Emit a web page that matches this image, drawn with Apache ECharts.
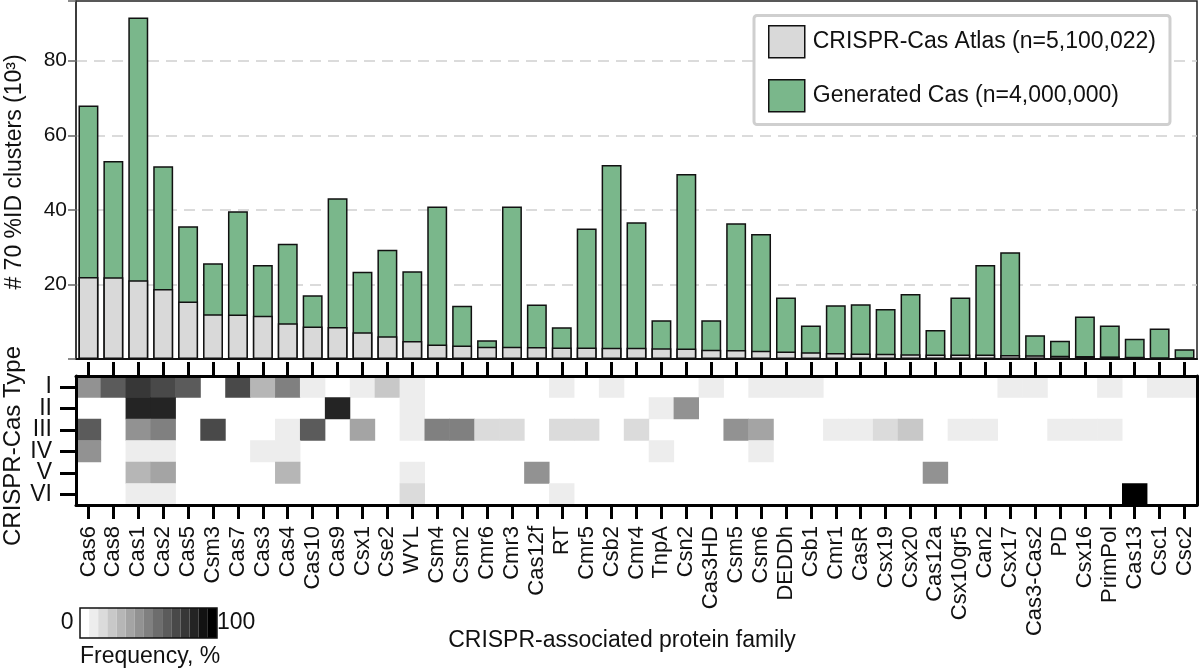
<!DOCTYPE html>
<html>
<head>
<meta charset="utf-8">
<script src="https://cdn.jsdelivr.net/npm/echarts@6/dist/echarts.min.js"></script>
<style>html,body{margin:0;padding:0;background:#fff}#c{width:1200px;height:669px}</style>
</head>
<body>
<div id="c"></div>
<script>
const categories = ['Cas6','Cas8','Cas1','Cas2','Cas5','Csm3','Cas7','Cas3','Cas4','Cas10','Cas9','Csx1','Cse2','WYL','Csm4','Csm2','Cmr6','Cmr3','Cas12f','RT','Cmr5','Csb2','Cmr4','TnpA','Csn2','Cas3HD','Csm5','Csm6','DEDDh','Csb1','Cmr1','CasR','Csx19','Csx20','Cas12a','Csx10gr5','Can2','Csx17','Cas3-Cas2','PD','Csx16','PrimPol','Cas13','Csc1','Csc2'];
const generated = [68.0,53.1,91.6,51.7,35.6,25.7,39.6,25.2,30.9,17.1,43.1,23.4,29.3,23.5,40.9,14.3,5.0,40.9,14.6,8.5,35.0,52.0,36.7,10.4,49.6,10.4,36.4,33.5,16.5,9.0,14.4,14.7,13.4,17.4,7.8,16.5,25.2,28.6,6.4,4.9,11.4,9.0,5.4,8.2,2.6];
const atlas = [22.0,21.9,21.1,18.8,15.4,12.0,11.9,11.6,9.6,8.7,8.6,7.2,6.1,4.8,3.9,3.6,3.3,3.3,3.2,3.1,3.1,3.0,3.0,2.9,2.8,2.5,2.4,2.2,2.0,1.8,1.6,1.5,1.4,1.3,1.2,1.2,1.2,1.1,1.0,0.9,0.8,0.7,0.6,0.4,0.4];
const types = ['I','II','III','IV','V','VI'];
const yTicks = [20,40,60,80];
const typeI = [['Cas6',43],['Cas8',63],['Cas1',78],['Cas2',72],['Cas5',63],['Cas7',70],['Cas3',30],['Cas4',53],['Cas10',10],['Csx1',10],['Cse2',23],['WYL',10],['RT',10],['Csb2',10],['Cas3HD',10],['Csm6',10],['DEDDh',10],['Csb1',10],['Csx17',10],['Cas3-Cas2',10],['PrimPol',10],['Csc1',10],['Csc2',10]];
const typeII = [['Cas1',83],['Cas2',83],['Cas9',83],['WYL',10],['TnpA',10],['Csn2',43]];
const typeIII = [['Cas6',63],['Cas1',43],['Cas2',48],['Csm3',72],['Cas4',10],['Cas10',63],['Csx1',36],['WYL',10],['Csm4',48],['Csm2',48],['Cmr6',16],['Cmr3',16],['RT',16],['Cmr5',16],['Cmr4',16],['Csm5',43],['Csm6',36],['Cmr1',10],['CasR',10],['Csx19',16],['Csx20',23],['Csx10gr5',10],['Can2',10],['PD',10],['Csx16',10],['PrimPol',10]];
const typeIV = [['Cas6',43],['Cas1',10],['Cas2',10],['Cas3',10],['Cas4',10],['TnpA',10],['Csm6',10]];
const typeV = [['Cas1',30],['Cas2',36],['Cas4',30],['WYL',10],['Cas12f',43],['Cas12a',43]];
const typeVI = [['Cas1',10],['Cas2',10],['WYL',16],['RT',10],['Cas13',98]];

const rows = [typeI, typeII, typeIII, typeIV, typeV, typeVI];
const heat = [];
rows.forEach((r, yi) => r.forEach(([c, v]) => heat.push([categories.indexOf(c), yi, v])));

const FF = '"Liberation Sans", Arial, sans-serif';
const TC = '#111';
const chart = echarts.init(document.getElementById('c'), null, {renderer: 'canvas'});
const thick = {show: true, lineStyle: {color: '#000', width: 3}};
chart.setOption({
  animation: false,
  textStyle: {fontFamily: FF},
  grid: [
    {left: 76, right: 3, top: 1, height: 358, show: true, borderColor: '#222', borderWidth: 1.5, backgroundColor: 'transparent'},
    {left: 76, right: 3, top: 376, height: 129}
  ],
  legend: {
    data: ['CRISPR-Cas Atlas (n=5,100,022)', 'Generated Cas (n=4,000,000)'],
    orient: 'vertical', left: 754, top: 15.5,
    itemWidth: 36, itemHeight: 32, itemGap: 20.5,
    padding: [9.5, 14, 12, 14],
    borderColor: '#cfcfcf', borderWidth: 3, borderRadius: 3, backgroundColor: '#fff',
    icon: 'rect', selectedMode: false,
    itemStyle: {borderColor: '#111', borderWidth: 1.5},
    textStyle: {fontSize: 23, color: TC, fontFamily: FF, padding: [0, 0, 0, 3]}
  },
  xAxis: [
    {type: 'category', gridIndex: 0, data: categories, axisLine: {lineStyle: {color: '#111', width: 2}}, axisTick: {show: false}, axisLabel: {show: false}},
    {type: 'category', gridIndex: 1, data: categories, position: 'bottom', z: 10,
     axisLine: thick,
     axisTick: {show: true, alignWithLabel: true, interval: 0, length: 14, lineStyle: {color: '#000', width: 3}},
     axisLabel: {rotate: 90, interval: 0, fontSize: 22, color: TC, margin: 21, fontFamily: FF}},
    {type: 'category', gridIndex: 1, data: categories, position: 'top', z: 10,
     axisLine: thick,
     axisTick: {show: true, alignWithLabel: true, interval: 0, length: 14, lineStyle: {color: '#000', width: 3}},
     axisLabel: {show: false}}
  ],
  yAxis: [
    {type: 'value', gridIndex: 0, min: 0, max: 96, interval: 20,
     axisLine: {show: true, lineStyle: {color: '#333', width: 1.5}},
     axisTick: {show: true, length: 8, lineStyle: {color: '#666', width: 1.5}},
     axisLabel: {fontSize: 21, color: TC, fontFamily: FF, margin: 9, formatter: v => yTicks.includes(v) ? String(v) : ''},
     splitLine: {show: true, showMaxLine: false, showMinLine: false, lineStyle: {type: [11, 7], color: '#cfcfcf', width: 1.5}}},
    {type: 'category', gridIndex: 1, data: types, inverse: true, z: 10,
     axisLine: thick,
     axisTick: {show: true, alignWithLabel: true, interval: 0, length: 16, lineStyle: {color: '#000', width: 3}},
     axisLabel: {interval: 0, fontSize: 23, color: TC, fontFamily: FF, margin: 24}},
    {type: 'category', gridIndex: 1, data: types, inverse: true, position: 'right', z: 10,
     axisLine: thick, axisTick: {show: false}, axisLabel: {show: false}}
  ],
  visualMap: {
    type: 'piecewise', seriesIndex: 2, min: 0, max: 100, splitNumber: 15,
    orient: 'horizontal', left: 60.8, top: 608, padding: 0,
    itemWidth: 9.13, itemHeight: 30, itemGap: 0, itemSymbol: 'rect',
    showLabel: false, text: ['100', '0 '], selectedMode: false, hoverLink: false,
    textStyle: {fontSize: 23, color: TC, fontFamily: FF},
    inRange: {color: ['#ffffff', '#000000']}
  },
  series: [
    {name: 'Generated Cas (n=4,000,000)', type: 'bar', xAxisIndex: 0, yAxisIndex: 0, data: generated,
     barWidth: '80%', barGap: '-100%', z: 2,
     itemStyle: {color: '#7ab78b', borderColor: '#111', borderWidth: 1.5}},
    {name: 'CRISPR-Cas Atlas (n=5,100,022)', type: 'bar', xAxisIndex: 0, yAxisIndex: 0, data: atlas,
     barWidth: '80%', barGap: '-100%', z: 3,
     itemStyle: {color: '#d9d9d9', borderColor: '#111', borderWidth: 1.5}},
    {name: 'freq', type: 'heatmap', xAxisIndex: 1, yAxisIndex: 1, data: heat,
     itemStyle: {borderWidth: 0}, emphasis: {disabled: true}}
  ],
  graphic: [
    {type: 'text', x: 15, y: 172, rotation: Math.PI / 2, style: {text: '# 70 %ID clusters (10³)', font: '23px ' + FF, fill: TC, align: 'center', verticalAlign: 'middle'}},
    {type: 'text', x: 13, y: 446, rotation: Math.PI / 2, style: {text: 'CRISPR-Cas Type', font: '24px ' + FF, fill: TC, align: 'center', verticalAlign: 'middle'}},
    {type: 'text', x: 622, y: 641, style: {text: 'CRISPR-associated protein family', font: '23px ' + FF, fill: TC, align: 'center', verticalAlign: 'middle'}},
    {type: 'text', x: 80, y: 657, style: {text: 'Frequency, %', font: '23px ' + FF, fill: TC, align: 'left', verticalAlign: 'middle'}},
    {type: 'rect', z: 100, shape: {x: 80, y: 608, width: 137, height: 30}, style: {fill: 'none', stroke: '#111', lineWidth: 1.5}}
  ]
});
</script>
</body>
</html>
